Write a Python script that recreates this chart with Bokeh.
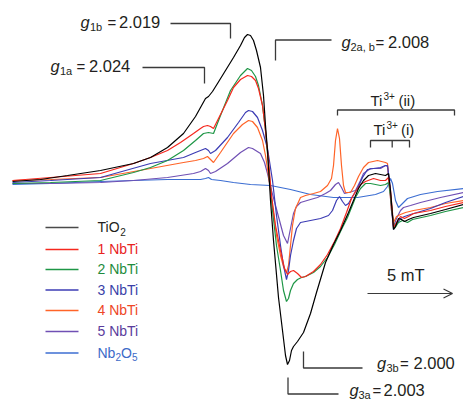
from bokeh.plotting import figure
from bokeh.models import Range1d, Arrow, OpenHead
from bokeh.core.properties import value
from bokeh.embed import file_html
from bokeh.resources import INLINE

# ---------------- data (field position, signal position; screen-like units, y grows downward) -------------
names = ["TiO2", "1 NbTi", "2 NbTi", "3 NbTi", "4 NbTi", "5 NbTi", "Nb2O5"]

tio2_x = [12, 40, 67, 100, 133, 150, 167, 183, 195, 200, 205, 208, 212, 217, 225, 233, 240, 244, 247, 250, 253,
          256, 260, 263, 265, 267, 270, 273, 278, 282, 285, 287, 289, 291, 293, 297, 303, 310, 316, 322, 325, 333,
          340, 348, 353, 358, 363, 368, 375, 380, 385, 388, 390, 392, 393, 395, 398, 401, 404, 408, 413, 430, 445, 463]
tio2_y = [181, 179, 175, 170, 163, 157, 147, 133, 116, 107, 98, 96, 91, 83, 70, 57, 45, 37, 34, 35, 40,
          50, 67, 95, 125, 150, 200, 240, 297, 330, 355, 364, 360, 350, 346, 341, 332, 313, 292, 272, 262, 244,
          230, 212, 200, 188, 180, 175, 173, 174, 175, 173, 190, 215, 229, 226, 218, 219, 221, 219, 217, 213, 209, 204]

nb1_x = [12, 50, 100, 133, 150, 167, 180, 193, 200, 203, 207, 210, 213, 218, 227, 233, 240, 247, 251, 255, 258,
         262, 265, 268, 271, 275, 280, 284, 287, 290, 293, 297, 301, 305, 313, 320, 327, 334, 340, 346, 351, 355,
         360, 365, 373, 380, 385, 388, 390, 392, 393, 396, 400, 404, 408, 413, 430, 445, 463]
nb1_y = [180, 177, 173, 163, 157, 150, 142, 133, 128, 126, 125, 126, 128, 118, 100, 87, 79, 75, 76, 80, 88,
         105, 130, 160, 195, 225, 250, 268, 274, 271, 270, 273, 277, 276, 271, 264, 254, 241, 228, 212, 198, 191,
         184, 181, 178, 180, 180, 177, 190, 212, 227, 222, 216, 218, 216, 213, 210, 206, 202]

nb2_x = [12, 50, 100, 133, 150, 167, 183, 195, 203, 208, 213, 220, 230, 240, 247, 251, 255, 258, 262, 265, 268,
         272, 276, 280, 283, 286, 288, 290, 293, 297, 301, 305, 313, 320, 327, 334, 340, 347, 351, 355, 360, 365,
         370, 380, 385, 388, 390, 392, 394, 398, 402, 407, 412, 430, 445, 463]
nb2_y = [183, 182, 180, 172, 167, 160, 150, 140, 133, 132, 133, 115, 90, 75, 68, 70, 76, 85, 105, 130, 165,
         210, 245, 270, 290, 301, 298, 290, 283, 279, 277, 276, 272, 266, 257, 244, 231, 217, 207, 197, 188, 183,
         183, 185, 184, 182, 195, 215, 228, 222, 220, 222, 219, 215, 211, 207]

nb3_x = [12, 50, 100, 150, 183, 195, 200, 205, 208, 210, 215, 227, 238, 245, 248, 252, 257, 262, 267, 272, 276,
         280, 283, 286, 288, 290, 293, 296, 300, 310, 320, 328, 332, 336, 339, 342, 345, 348, 352, 357, 362, 367,
         373, 380, 385, 387, 389, 391, 393, 396, 400, 404, 410, 430, 445, 463]
nb3_y = [182, 180, 177, 163, 157, 152, 150, 148, 150, 153, 150, 137, 122, 112, 110, 111, 117, 130, 148, 180, 215,
         245, 265, 279, 270, 255, 240, 228, 222, 220, 218, 215, 210, 200, 196, 201, 205, 203, 196, 188, 177, 169,
         168, 167, 165, 165, 180, 205, 229, 224, 218, 216, 214, 208, 202, 196]

nb4_x = [12, 50, 100, 150, 183, 195, 203, 207, 210, 213, 220, 233, 242, 248, 252, 257, 262, 265, 268, 272, 276,
         280, 283, 286, 288, 290, 292, 295, 300, 305, 313, 320, 327, 331, 333, 335, 337, 339, 341, 343, 345, 350,
         354, 358, 363, 368, 377, 385, 387, 389, 391, 393, 396, 400, 405, 413, 430, 445, 463]
nb4_y = [180, 179, 177, 168, 162, 160, 158, 156, 159, 162, 152, 133, 124, 120, 121, 127, 140, 155, 175, 205, 235,
         255, 266, 272, 265, 245, 225, 208, 197, 195, 193, 191, 185, 178, 165, 140, 128, 138, 165, 185, 192, 192,
         185, 176, 167, 162, 160, 162, 163, 185, 210, 222, 216, 214, 212, 210, 207, 203, 200]

nb5_x = [12, 50, 100, 133, 167, 193, 200, 205, 208, 210, 215, 227, 240, 248, 252, 260, 264, 267, 271, 275, 279,
         283, 287, 290, 293, 296, 300, 310, 317, 325, 330, 335, 338, 341, 344, 348, 355, 360, 363, 370, 380, 385,
         387, 389, 391, 393, 396, 400, 403, 410, 420, 440, 463]
nb5_y = [183, 183, 182, 180, 177, 173, 171, 168, 170, 173, 171, 163, 152, 147, 148, 153, 162, 173, 190, 205, 220,
         235, 243, 228, 213, 206, 202, 199, 197, 193, 190, 184, 182, 187, 193, 192, 190, 180, 173, 168, 168, 165,
         166, 185, 210, 226, 218, 210, 207, 205, 202, 197, 192]

nb2o5_x = [12, 50, 100, 133, 167, 200, 205, 208, 211, 220, 233, 250, 270, 290, 310, 333, 357, 375, 383, 387, 390,
           392, 395, 398, 401, 407, 420, 437, 463]
nb2o5_y = [184, 183, 181, 180, 179, 179, 178, 177, 179, 180, 182, 184, 185, 189, 194, 197, 197, 194, 191, 186, 178,
           183, 200, 207, 204, 198, 194, 191, 188]

xs = [tio2_x, nb1_x, nb2_x, nb3_x, nb4_x, nb5_x, nb2o5_x]
ys = [tio2_y, nb1_y, nb2_y, nb3_y, nb4_y, nb5_y, nb2o5_y]

line_colors = ["#000000", "#f5281e", "#1e9646", "#3c3cb4", "#ff6428", "#7050b4", "#3c6ed2"]
legend_line_colors = ["#4a4a4a", "#f5281e", "#1e9646", "#3c3cb4", "#ff6428", "#7050b4", "#3c6ed2"]
text_colors = ["#231f20", "#e8231e", "#1e8c3c", "#3a3fa8", "#ee4626", "#5a3c9c", "#3c6ac8"]

# ---------------- figure ----------------
p = figure(width=463, height=401, x_range=Range1d(0, 463), y_range=Range1d(401, 0),
           output_backend="svg", toolbar_location=None, x_axis_type=None, y_axis_type=None,
           min_border=0)
p.grid.visible = False
p.outline_line_color = None
p.background_fill_color = "white"

FONT = value("Liberation Sans")
INK = "#231f20"
GUIDE = "#3a3a3a"

draw_order = [6, 5, 4, 3, 2, 1, 0]
for i in draw_order:
    p.line(xs[i], ys[i], line_color=line_colors[i], line_width=1.2)


def label(x, y, txt, size, color=INK, style="normal"):
    # y is the intended alphabetic baseline; place the text by its middle
    px = float(size.replace("px", ""))
    p.text(x=[x], y=[y - 0.36 * px], text=[txt], text_font=FONT, text_font_size=value(size),
           text_color=color, text_font_style=style, text_align="left", text_baseline="middle")


def gtag(xg, xs_, xeq, xnum, base, sub, num):
    label(xg, base, "g", "16.5px", style="italic")
    label(xs_, base + 3, sub, "11px")
    label(xeq - 0.5, base, "=", "15px")
    label(xnum + 1.5, base, num, "16.5px")


# ---------------- annotations ----------------
gtag(80, 89.5, 107.5, 117, 27, "1b", "2.019")
p.line([170, 230, 230], [23, 23, 38], line_color=GUIDE, line_width=1.3)

gtag(50, 59.5, 76.5, 87, 71, "1a", "2.024")
p.line([142, 204, 204], [67, 67, 83], line_color=GUIDE, line_width=1.3)

gtag(341, 350, 375.5, 386, 47, "2a, b", "2.008")
p.line([331, 275, 275], [39.5, 39.5, 60], line_color=GUIDE, line_width=1.3)

gtag(376.5, 386, 400, 411.5, 368, "3b", "2.000")
p.line([303, 303, 362], [351, 367.5, 367.5], line_color=GUIDE, line_width=1.3)

gtag(349, 358, 372.5, 381.5, 395, "3a", "2.003")
p.line([287.5, 287.5, 338], [377, 393.5, 393.5], line_color=GUIDE, line_width=1.3)

# Ti3+ (ii)
label(370, 105, "Ti", "15px")
label(383, 99, "3+", "10px")
label(398, 105, "(ii)", "15px")
p.line([337, 337, 454, 454], [115, 109.5, 109.5, 115], line_color=GUIDE, line_width=1.3)

# Ti3+ (i)
label(373, 134, "Ti", "15px")
label(386, 128, "3+", "10px")
label(400.5, 134, "(i)", "15px")
p.line([370, 370, 409, 409], [147, 140, 140, 147], line_color=GUIDE, line_width=1.3)
p.line([391.7, 391.7], [140, 147], line_color=GUIDE, line_width=1.3)

# scale arrow
label(386.5, 280, "5 mT", "16.5px")
p.add_layout(Arrow(end=OpenHead(size=9, line_color=GUIDE, line_width=1.2),
                   x_start=367, y_start=293, x_end=452, y_end=293,
                   line_color=GUIDE, line_width=1.2))

# ---------------- legend ----------------
leg_y = [227, 249, 269, 289.5, 310, 331, 352.5]
p.segment(x0=[45] * 7, y0=leg_y, x1=[78] * 7, y1=leg_y, line_color=legend_line_colors, line_width=1.4)
for i, nm in enumerate(names):
    yb = leg_y[i] + 5
    c = text_colors[i]
    if nm == "TiO2":
        label(97, yb, "TiO", "14px", color=c)
        label(119.8, yb + 3, "2", "10px", color=c)
    elif nm == "Nb2O5":
        label(97, yb, "Nb", "14px", color=c)
        label(115, yb + 3, "2", "10px", color=c)
        label(120.6, yb, "O", "14px", color=c)
        label(131.6, yb + 3, "5", "10px", color=c)
    else:
        label(97, yb, nm, "14px", color=c)

open("out.html", "w").write(file_html(p, INLINE))
